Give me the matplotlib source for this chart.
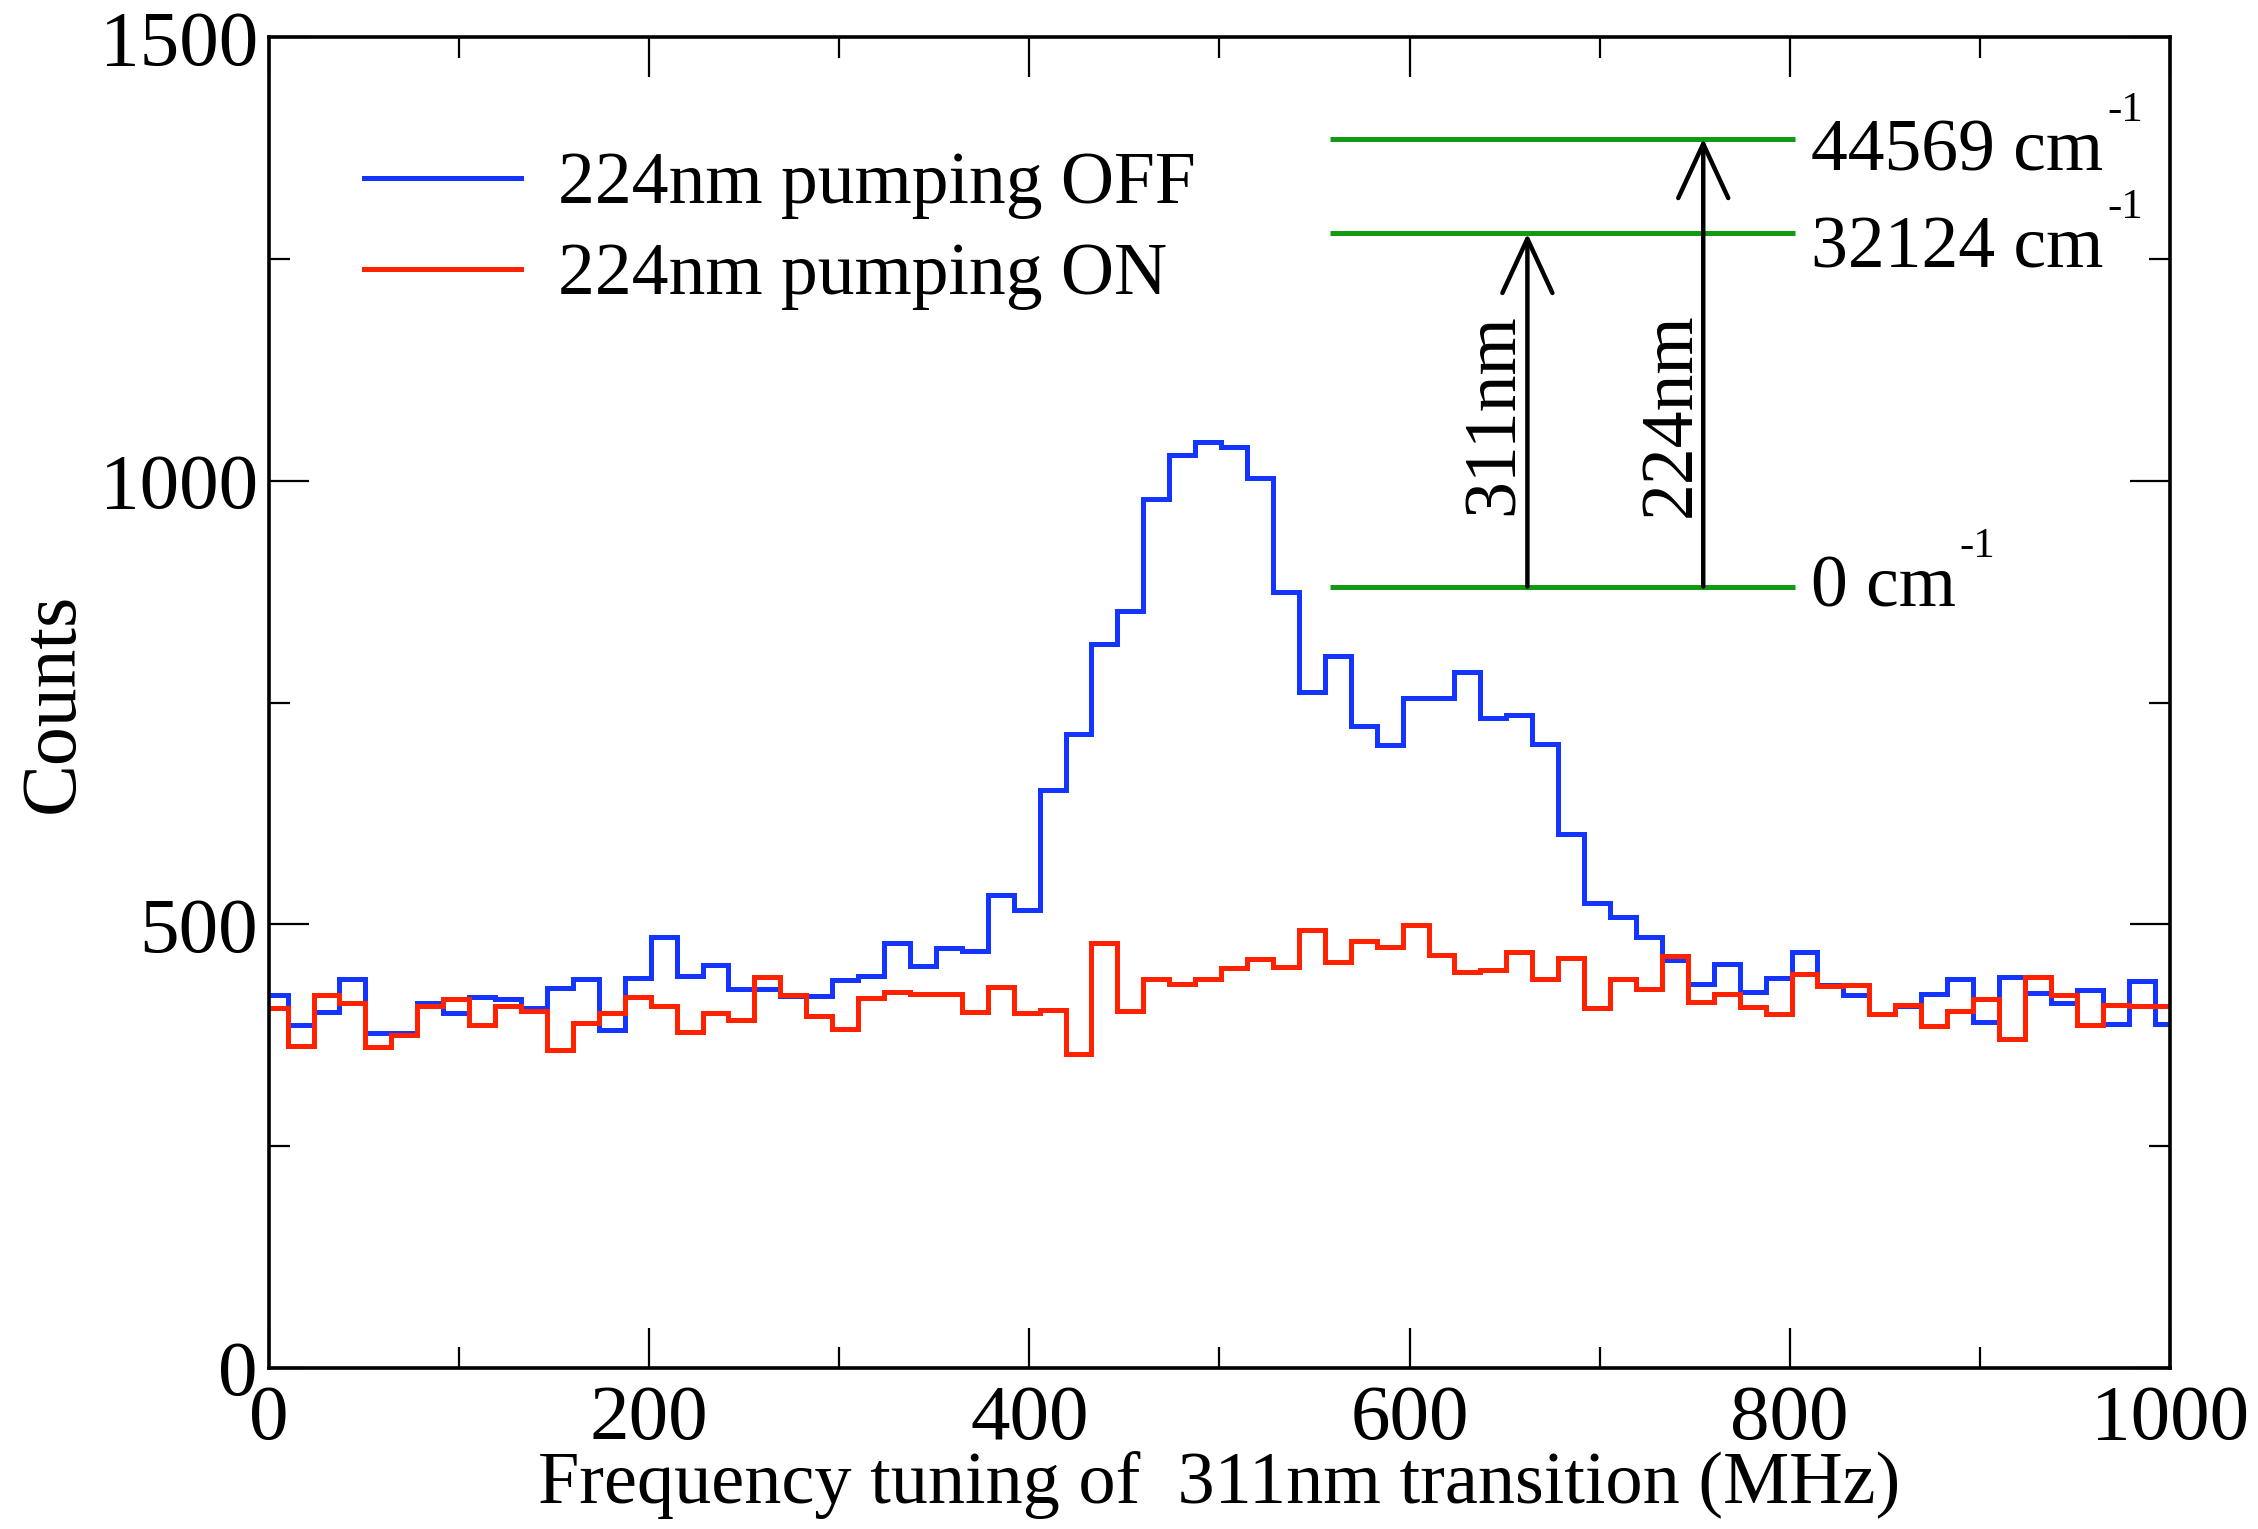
import numpy as np
import matplotlib
matplotlib.use("Agg")
import matplotlib.pyplot as plt

plt.rcParams['font.family'] = ['Liberation Serif', 'DejaVu Serif']

# step histogram: 74 bins, ~13.64 MHz wide
bin_start = -3.8
bin_width = 13.64

counts_off = [420, 387, 401, 439, 378, 378, 411, 400, 418, 416,
              406, 428, 439, 381, 440, 486, 442, 454, 427, 427,
              419, 419, 437, 442, 479, 453, 473, 470, 533, 516,
              652, 715, 816, 853, 980, 1029, 1044, 1038, 1003, 875,
              762, 803, 724, 702, 755, 755, 785, 733, 736, 703,
              602, 524, 509, 486, 460, 433, 456, 424, 440, 469,
              432, 421, 399, 408, 422, 439, 390, 441, 423, 412,
              426, 388, 436, 388]

counts_on = [406, 363, 420, 411, 362, 375, 408, 416, 387, 408,
             403, 359, 389, 400, 418, 408, 379, 400, 392, 441,
             421, 397, 382, 417, 424, 422, 422, 401, 429, 400,
             404, 354, 479, 403, 438, 433, 439, 451, 461, 452,
             494, 458, 481, 475, 499, 466, 446, 449, 469, 439,
             462, 406, 438, 427, 465, 413, 422, 407, 399, 444,
             431, 432, 399, 409, 386, 403, 416, 371, 441, 421,
             387, 409, 408, 408]

labels = ['224nm pumping OFF', '224nm pumping ON']

# energy level inset (drawn in data units of the plot)
level_names = ['0 cm', '32124 cm', '44569 cm']
level_y = [881, 1279, 1386]
level_text_y = [859, 1241, 1350]
level_x = (558, 803)
arrow_x = [662, 754.5]
arrow_top = [1279, 1386]
arrow_names = ['311nm', '224nm']
arrow_label_x = [645, 738]

blue = '#1434ff'
red = '#ff2200'
green = '#129a12'

edges = bin_start + bin_width * np.arange(len(counts_off) + 1)

fig = plt.figure(figsize=(22.58, 15.29), dpi=100)
ax = fig.add_axes([0.1191, 0.1053, 0.8419, 0.8702])

ax.stairs(counts_off, edges, baseline=None, color=blue, lw=3.6, label=labels[0])
ax.stairs(counts_on, edges, baseline=None, color=red, lw=3.6, label=labels[1])

ax.set_xlim(0, 1000)
ax.set_ylim(0, 1500)
ax.set_xticks(np.arange(0, 1001, 200))
ax.set_xticks(np.arange(100, 1000, 200), minor=True)
ax.set_yticks([0, 500, 1000, 1500])
ax.set_yticks([250, 750, 1250], minor=True)
ax.tick_params(which='both', direction='in', top=True, right=True, width=1.6)
ax.tick_params(which='major', length=29, labelsize=57)
ax.tick_params(which='minor', length=15)
ax.tick_params(axis='x', pad=12)
ax.tick_params(axis='y', pad=8)
for s in ax.spines.values():
    s.set_linewidth(2.6)

ax.set_xlabel('Frequency tuning of  311nm transition (MHz)', fontsize=53.5, labelpad=-4)
ax.set_ylabel('Counts', fontsize=56, labelpad=7)

ax.legend(loc='upper left', bbox_to_anchor=(0.05, 0.914), frameon=False,
          fontsize=53, handlelength=2.13, handletextpad=0.5, labelspacing=0.32,
          borderpad=0, borderaxespad=0)

# level diagram
ax.hlines(level_y, level_x[0], level_x[1], color=green, lw=3.6)
for name, y in zip(level_names, level_text_y):
    t = ax.text(level_x[1] + 8, y, name, fontsize=53, va='baseline', ha='left')
    ax.annotate('-1', xy=(1, 1), xycoords=t, xytext=(3, -8),
                textcoords='offset points', fontsize=31, ha='left', va='bottom')

for x, top, name, lx in zip(arrow_x, arrow_top, arrow_names, arrow_label_x):
    ax.annotate('', xy=(x, top), xytext=(x, level_y[0]),
                arrowprops=dict(arrowstyle='->,head_length=1.3,head_width=0.6',
                                color='black', lw=3.2, mutation_scale=30,
                                shrinkA=0, shrinkB=0))
    ax.text(lx, 1075, name, fontsize=53, rotation=90, ha='center', va='center')

fig.savefig('out.png', dpi=100)
